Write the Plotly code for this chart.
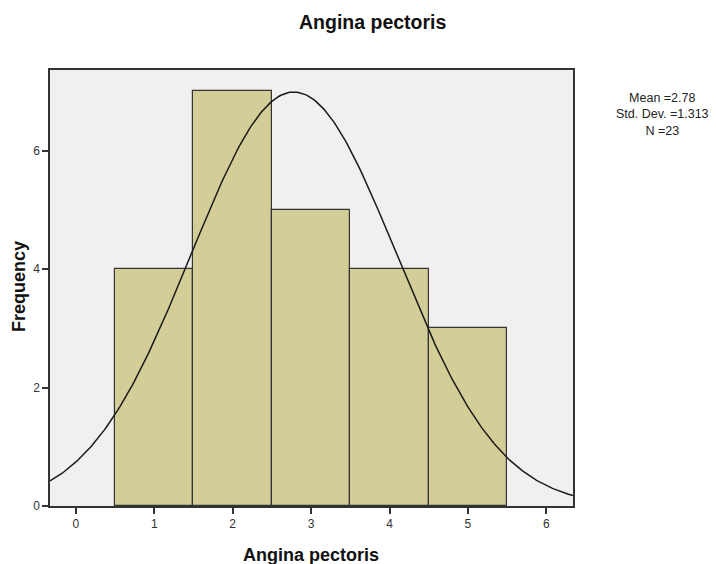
import numpy as np
import plotly.graph_objects as go

# Data
bin_centers = [1, 2, 3, 4, 5]
frequencies = [4, 7, 5, 4, 3]
mean_val = 2.78
std_dev = 1.313
n_total = 23
bin_width = 1.0
x_ticks = [0, 1, 2, 3, 4, 5, 6]
y_ticks = [0, 2, 4, 6]
stat_lines = [f"Mean ={mean_val}", f"Std. Dev. ={std_dev}", f"N ={n_total}"]

x_range = [-0.33, 6.34]
y_range = [0, 7.36]

xs = np.linspace(x_range[0], x_range[1], 300)
ys = n_total * bin_width / (std_dev * np.sqrt(2 * np.pi)) * np.exp(-0.5 * ((xs - mean_val) / std_dev) ** 2)

fig = go.Figure()
fig.add_trace(go.Bar(
    x=bin_centers, y=frequencies, width=bin_width,
    marker=dict(color="#D3CE97", line=dict(color="#333333", width=1.2)),
    hoverinfo="x+y",
))
fig.add_trace(go.Scatter(
    x=xs, y=ys, mode="lines",
    line=dict(color="#1a1a1a", width=1.5),
    hoverinfo="skip",
))

font_family = "Liberation Sans, Arial, sans-serif"

fig.update_layout(
    width=716, height=564,
    margin=dict(l=50, r=143, t=70, b=58),
    paper_bgcolor="white",
    plot_bgcolor="#F0F0F0",
    showlegend=False,
    font=dict(family=font_family, size=12, color="#222222"),
    bargap=0,
)
fig.update_xaxes(
    range=x_range, tickvals=x_ticks, ticks="outside", ticklen=6, tickwidth=1.5,
    tickcolor="#333333", showgrid=False, zeroline=False,
    showline=True, linecolor="#333333", linewidth=1.5, mirror=True,
    tickfont=dict(size=12, color="#333333"),
)
fig.update_yaxes(
    range=y_range, tickvals=y_ticks, ticks="outside", ticklen=6, tickwidth=1.5,
    tickcolor="#333333", showgrid=False, zeroline=False,
    showline=True, linecolor="#333333", linewidth=1.5, mirror=True,
    tickfont=dict(size=12, color="#333333"),
)

# Titles
fig.add_annotation(text="<b>Angina pectoris</b>", xref="paper", yref="paper",
                   x=(373 - 50) / 523, y=1, yshift=48, showarrow=False,
                   xanchor="center", yanchor="middle",
                   font=dict(size=19.5, color="#111111"))
fig.add_annotation(text="<b>Angina pectoris</b>", xref="paper", yref="paper",
                   x=(311 - 50) / 523, y=0, yshift=-49, showarrow=False,
                   xanchor="center", yanchor="middle",
                   font=dict(size=18, color="#111111"))
fig.add_annotation(text="<b>Frequency</b>", xref="paper", yref="paper",
                   x=0, xshift=-31, y=(506 - 287) / 436, showarrow=False, textangle=-90,
                   xanchor="center", yanchor="middle",
                   font=dict(size=18, color="#111111"))
fig.add_annotation(text="<br>".join(stat_lines), xref="paper", yref="paper",
                   x=1, xshift=662 - 573, y=1, yshift=70 - 114,
                   showarrow=False, xanchor="center", yanchor="middle", align="center",
                   font=dict(size=12.5, color="#222222"))

fig.write_html("out.html", config={"displayModeBar": False},
               post_script="document.body.style.margin='0px';document.body.style.overflow='hidden';")
